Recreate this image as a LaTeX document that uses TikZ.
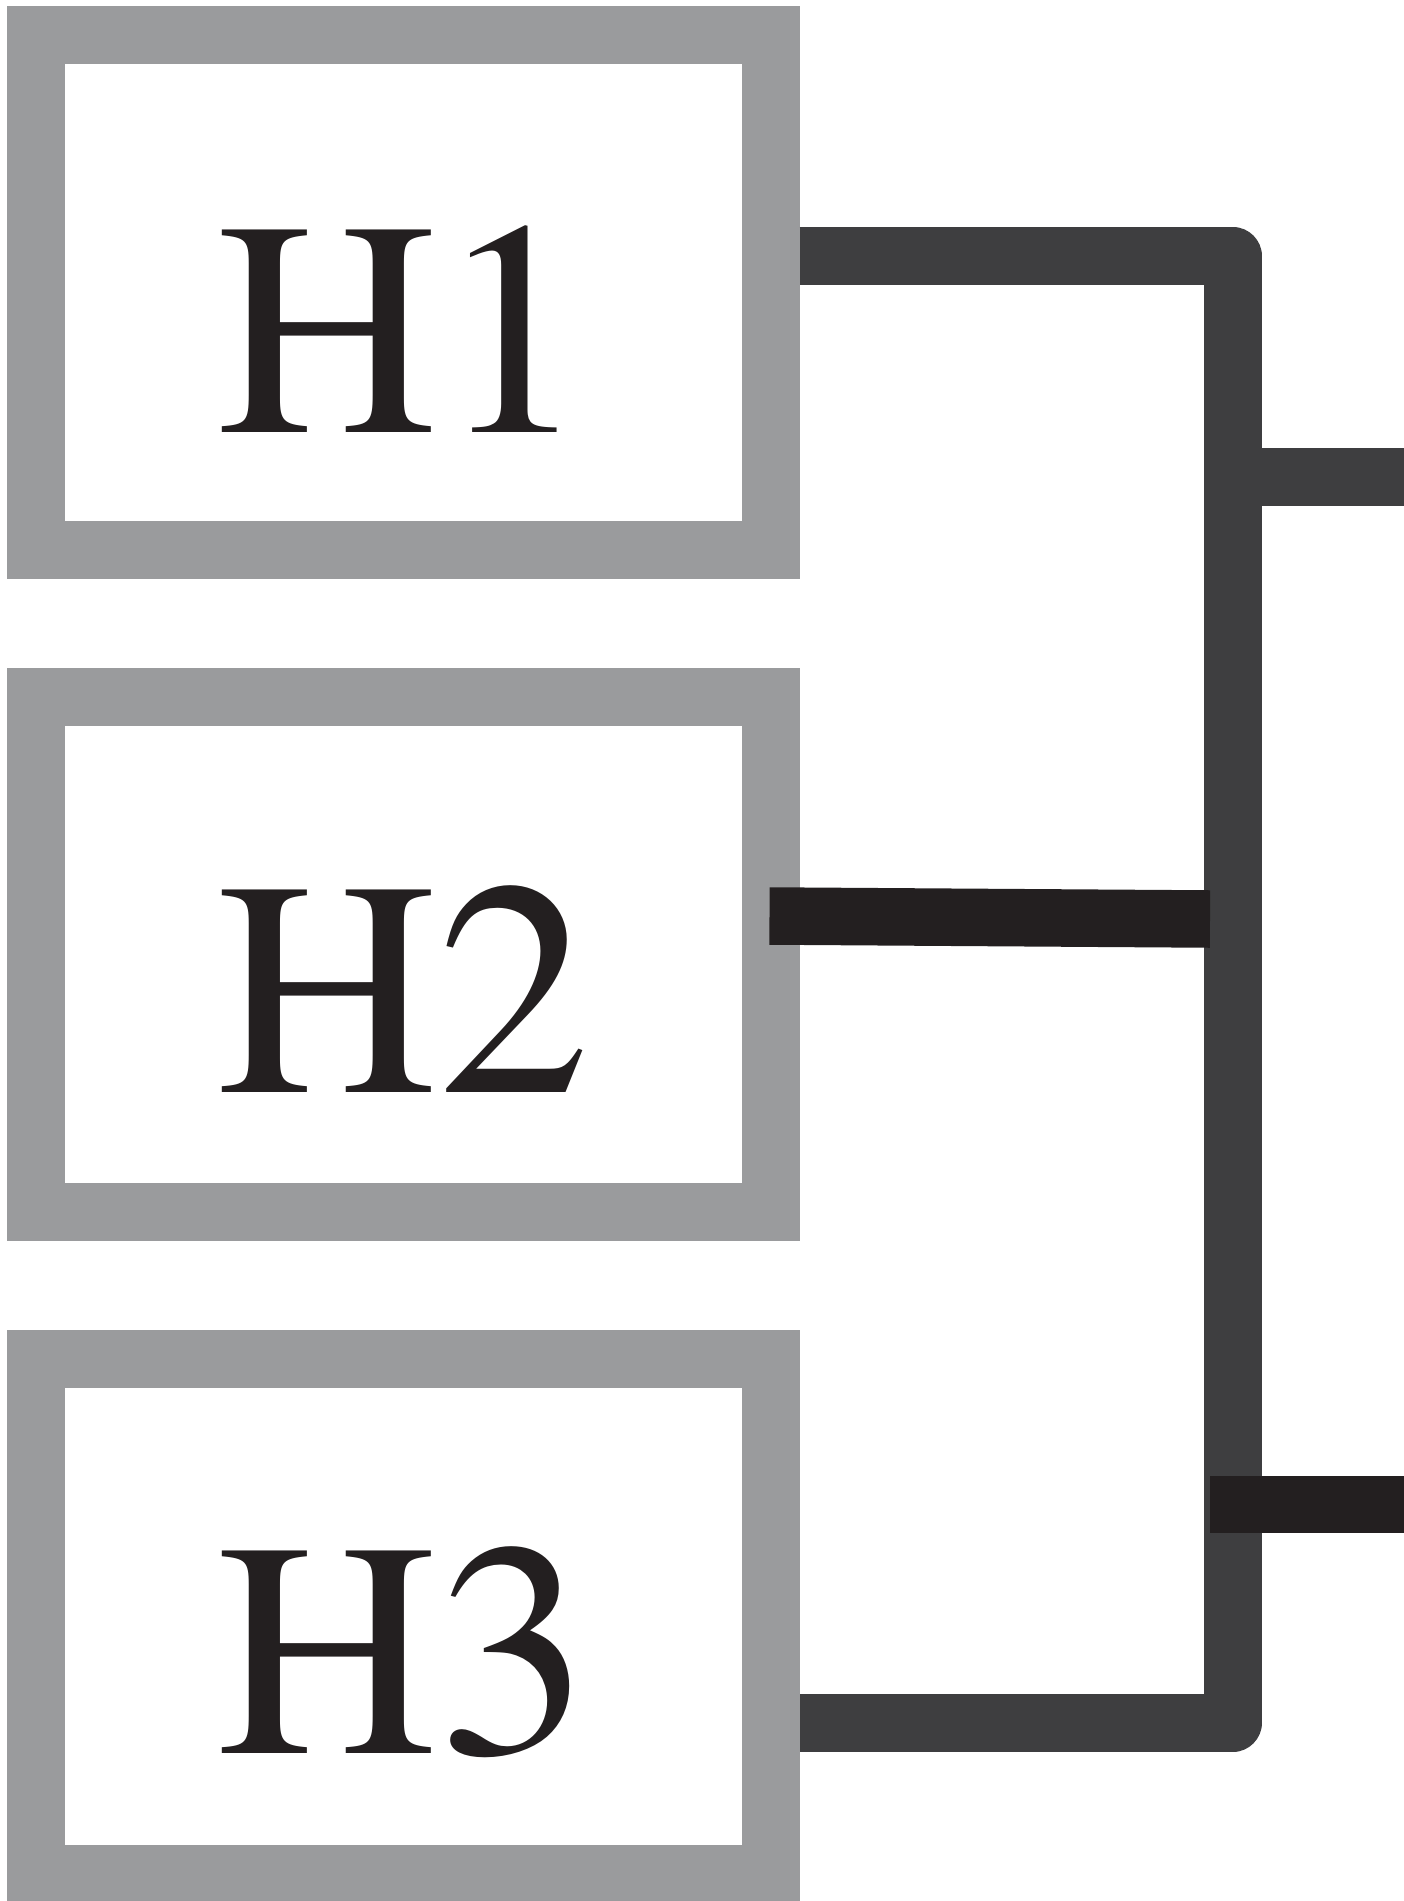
\documentclass[tikz,border=0pt]{standalone}
\usepackage{fontspec}
\setmainfont{texgyretermes-regular.otf}
\definecolor{boxgray}{HTML}{9A9B9D}
\definecolor{conngray}{HTML}{3E3E40}
\definecolor{inkblack}{HTML}{231F20}
\tikzset{
  hbox/.style={draw=boxgray, line width=58pt, fill=white, minimum width=735pt, minimum height=515pt, inner sep=0pt},
  lbl/.style={inner sep=0pt, text=inkblack, font=\fontsize{306}{306}\selectfont, anchor=base},
  conn/.style={draw=conngray, line width=58pt, line join=round, line cap=butt},
  blk/.style={draw=inkblack, line width=57.5pt, line cap=butt}
}
\begin{document}
\begin{tikzpicture}[x=1pt,y=-1pt]
\useasboundingbox (0,0) rectangle (1403,1901);
% boxes
\node[hbox] (H1) at (403,292.5) {};
\node[hbox] (H2) at (403.5,954.5) {};
\node[hbox] (H3) at (403.5,1616.5) {};
% labels
\node[lbl] (H1t) at (403,432.5) {H1};
\node[lbl] (H2t) at (403.5,1092) {H2};
\node[lbl] (H3t) at (403.5,1753.3) {H3};
% connector points
\coordinate (c1) at (1233,256.3);
\coordinate (jn) at (1233,477.2);
\coordinate (c3) at (1233,1722.5);
\coordinate (o1) at (1410,477.2);
\coordinate (b2l) at (769.5,916);
\coordinate (b2r) at (1210,919);
\coordinate (b3l) at (1210.3,1504.7);
\coordinate (o2) at (1410,1504.7);
% connectors
\draw[conn] (H1.east |- c1) -- (c1) -- (jn) -- (o1);
\draw[conn] (jn) -- (c3) -- (H3.east |- c3);
\draw[blk] (b2l) -- (b2r);
\draw[blk] (b3l) -- (o2);
\end{tikzpicture}
\end{document}
